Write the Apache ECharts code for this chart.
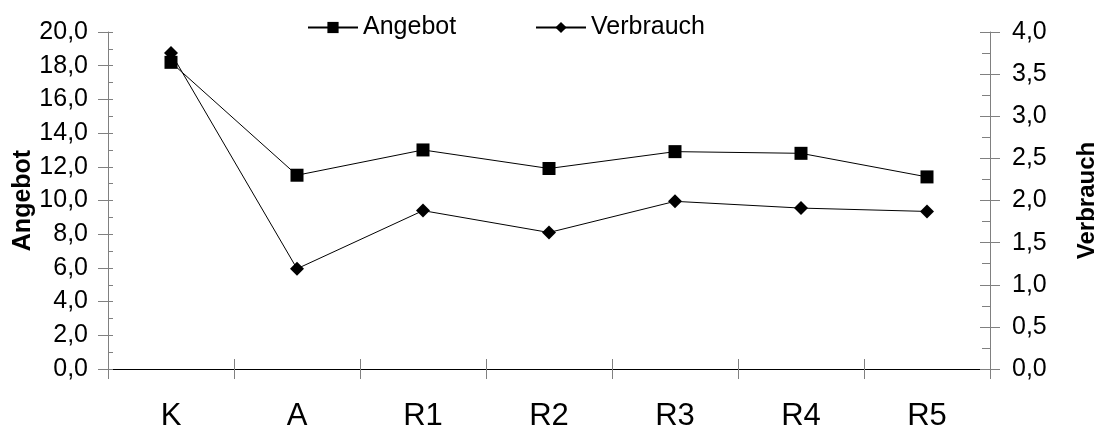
<!DOCTYPE html>
<html>
<head>
<meta charset="utf-8">
<script src="https://cdn.jsdelivr.net/npm/echarts@6/dist/echarts.min.js"></script>
<style>
  html, body { margin: 0; padding: 0; background: #ffffff; }
  #chart { width: 1102px; height: 430px; }
</style>
</head>
<body>
<div id="chart"></div>
<script>
// Categories along the x axis
const categories = ['K', 'A', 'R1', 'R2', 'R3', 'R4', 'R5'];
// Angebot values (left axis)
const angebot = [18.2, 11.5, 13.0, 11.9, 12.9, 12.8, 11.4];
// Verbrauch values (right axis)
const verbrauch = [3.75, 1.19, 1.88, 1.62, 1.99, 1.91, 1.87];

const FONT = '"Liberation Sans", Arial, sans-serif';
const GREY = '#808080';
const commaFmt = v => v.toFixed(1).replace('.', ',');

const chart = echarts.init(document.getElementById('chart'), null, { renderer: 'canvas' });

// Tick-only overlay axes, so that the major ticks cross the axis line
function overlayY(pos, min, max, interval, inLen, minorLen) {
  return {
    type: 'value', position: pos, min: min, max: max, interval: interval,
    axisLine: { show: false },
    axisLabel: { show: false },
    splitLine: { show: false },
    axisTick: { show: true, inside: true, length: inLen, lineStyle: { color: GREY } },
    minorTick: { show: true, splitNumber: 2, length: minorLen, lineStyle: { color: GREY } }
  };
}

const legendBase = {
  top: 10, itemWidth: 50, itemHeight: 14,
  textStyle: { fontFamily: FONT, fontSize: 25, color: '#000' }
};

chart.setOption({
  animation: false,
  backgroundColor: '#ffffff',
  textStyle: { fontFamily: FONT },
  grid: { left: 108, right: 112, top: 32, bottom: 61, containLabel: false, outerBoundsMode: 'none' },
  legend: [
    Object.assign({ data: ['Angebot'], left: 302 }, legendBase),
    Object.assign({ data: ['Verbrauch'], left: 530 }, legendBase)
  ],
  xAxis: [
    {
      type: 'category', data: categories, boundaryGap: true, position: 'bottom',
      axisLine: { show: true, lineStyle: { color: '#000', width: 1 } },
      axisTick: { show: true, inside: false, length: 10, lineStyle: { color: GREY } },
      axisLabel: { fontFamily: FONT, fontSize: 31, color: '#000', margin: 32 },
      splitLine: { show: false }
    },
    {
      type: 'category', data: categories, boundaryGap: true, position: 'bottom',
      axisLine: { show: false },
      axisTick: { show: true, inside: true, length: 10, lineStyle: { color: GREY } },
      axisLabel: { show: false },
      splitLine: { show: false }
    }
  ],
  yAxis: [
    {
      type: 'value', position: 'left', min: 0, max: 20, interval: 2,
      name: 'Angebot', nameLocation: 'middle', nameGap: 72, nameRotate: 90,
      nameMoveOverlap: false,
      nameTextStyle: { fontFamily: FONT, fontSize: 25, fontWeight: 'bold', color: '#000' },
      axisLine: { show: true, lineStyle: { color: GREY, width: 1 } },
      axisTick: { show: true, inside: false, length: 10, lineStyle: { color: GREY } },
      axisLabel: { fontFamily: FONT, fontSize: 25, color: '#000', margin: 20, formatter: commaFmt },
      splitLine: { show: false }
    },
    {
      type: 'value', position: 'right', min: 0, max: 4, interval: 0.5,
      name: 'Verbrauch', nameLocation: 'middle', nameGap: 85, nameRotate: 90,
      nameMoveOverlap: false,
      nameTextStyle: { fontFamily: FONT, fontSize: 24, fontWeight: 'bold', color: '#000' },
      axisLine: { show: true, lineStyle: { color: GREY, width: 1 } },
      axisTick: { show: true, inside: false, length: 10, lineStyle: { color: GREY } },
      axisLabel: { fontFamily: FONT, fontSize: 25, color: '#000', margin: 22, formatter: commaFmt },
      splitLine: { show: false }
    },
    overlayY('left', 0, 20, 2, 5, 5),
    overlayY('right', 0, 4, 0.5, 10, 8)
  ],
  series: [
    {
      name: 'Angebot', type: 'line', data: angebot,
      xAxisIndex: 0, yAxisIndex: 0,
      symbol: 'rect', symbolSize: 13, showAllSymbol: true,
      lineStyle: { color: '#000', width: 1 },
      itemStyle: { color: '#000', borderWidth: 0 },
      emphasis: { disabled: true }
    },
    {
      name: 'Verbrauch', type: 'line', data: verbrauch,
      xAxisIndex: 0, yAxisIndex: 1,
      symbol: 'diamond', symbolSize: 14, showAllSymbol: true,
      lineStyle: { color: '#000', width: 1 },
      itemStyle: { color: '#000', borderWidth: 0 },
      emphasis: { disabled: true }
    }
  ]
});
</script>
</body>
</html>
